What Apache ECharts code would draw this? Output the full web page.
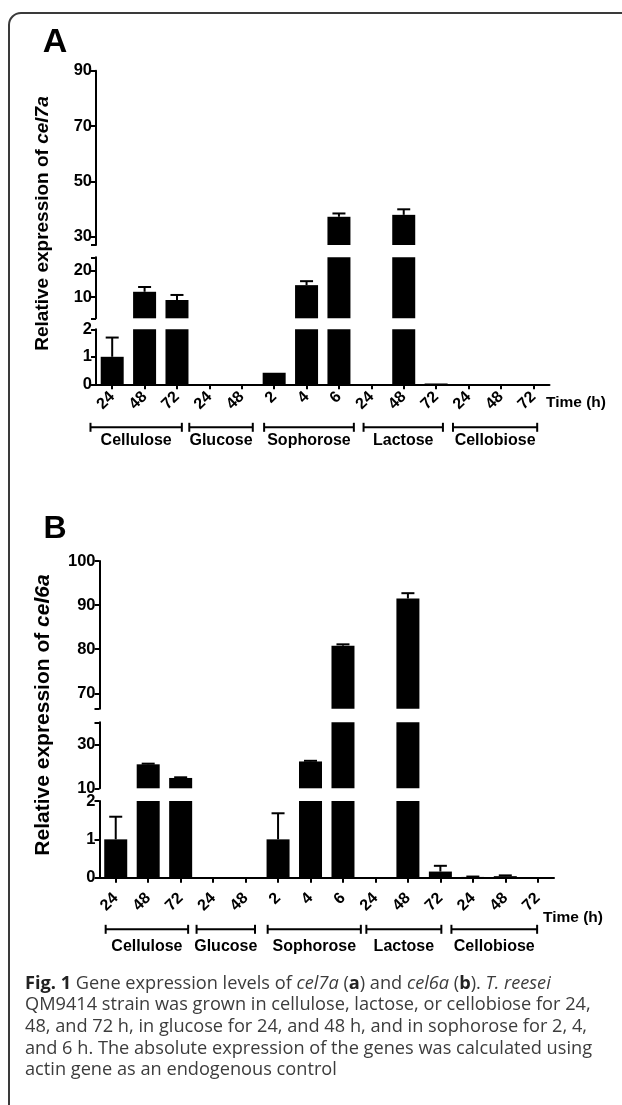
<!DOCTYPE html>
<html><head><meta charset="utf-8">
<script src="https://cdn.jsdelivr.net/npm/echarts@6/dist/echarts.min.js"></script>
<style>html,body{margin:0;padding:0;background:#fff}#c{width:622px;height:1105px}</style>
</head><body><div id="c"></div>
<script>
// ---------- data ----------
const categories = ['24','48','72','24','48','2','4','6','24','48','72','24','48','72'];
const groupNames = ['Cellulose','Glucose','Sophorose','Lactose','Cellobiose'];
const groupSizes = [3,2,3,3,3];
const cel7aValues = [1.0, 12.0, 8.9, 0.01, 0.01, 0.42, 14.5, 37.2, 0.01, 37.9, 0.03, 0.01, 0.01, 0.01];
const cel7aErrors = [0.7, 1.8, 1.9, 0, 0, 0, 1.5, 1.2, 0, 2.0, 0, 0, 0, 0];
const cel6aValues = [1.0, 20.9, 14.7, 0.01, 0.01, 1.0, 22.2, 80.8, 0.01, 91.5, 0.16, 0.02, 0.04, 0.01];
const cel6aErrors = [0.59, 0.3, 0.3, 0, 0, 0.68, 0.3, 0.3, 0, 1.2, 0.15, 0.01, 0.02, 0];
const cel7aSegments = [[27, 90], [2, 25], [0, 2]];
const cel7aTickLabels = [[30, 50, 70, 90], [10, 20], [0, 1, 2]];
const cel6aSegments = [[66.5, 100], [10, 40], [0, 2]];
const cel6aTickLabels = [[70, 80, 90, 100], [10, 30], [0, 1, 2]];
const captionLines = [
  '{fb|Fig. 1} Gene expression levels of {i|cel7a} ({b|a}) and {i|cel6a} ({b|b}). {i|T. reesei}',
  'QM9414 strain was grown in cellulose, lactose, or cellobiose for 24,',
  '48, and 72 h, in glucose for 24, and 48 h, and in sophorose for 2, 4,',
  'and 6 h. The absolute expression of the genes was calculated using',
  'actin gene as an endogenous control'
];

// ---------- layout ----------
const FF = '"Liberation Sans", Arial, sans-serif';
const panels = [
  { letter: 'A', gene: 'cel7a', values: cel7aValues, errors: cel7aErrors, segs: cel7aSegments, labels: cel7aTickLabels,
    left: 96, width: 453.5, boxes: [[70.7, 245], [257.3, 318.3], [329.3, 384.3]],
    bracketDy: 43, groupLabelDy: 56.5, xLabelMargin: 10,
    bracketOffsets: [[-0.67, 0.15], [-0.62, 0.34], [-0.31, 0.46], [-0.24, 0.21], [-0.48, 0.12]],
    letterPos: [55, 43, 34], namePos: [43, 223.5, 19], timePos: [576, 403] },
  { letter: 'B', gene: 'cel6a', values: cel6aValues, errors: cel6aErrors, segs: cel6aSegments, labels: cel6aTickLabels,
    left: 99.5, width: 454.5, boxes: [[561, 708.7], [722.3, 788.3], [801, 877.7]],
    bracketDy: 51.6, groupLabelDy: 69, xLabelMargin: 18,
    bracketOffsets: [[-0.31, 0.23], [-0.51, 0.29], [-0.32, 0.55], [-0.28, 0.03], [-0.66, -0.02]],
    letterPos: [55, 529, 32], namePos: [43, 715, 21], timePos: [573, 918] }
];

const groupStarts = [];
groupSizes.reduce((acc, s) => { groupStarts.push(acc); return acc + s; }, 0);

const grid = [], xAxis = [], yAxis = [], series = [], graphic = [];
let idx = 0;
panels.forEach(p => {
  p.segs.forEach((seg, s) => {
    const box = p.boxes[s];
    grid.push({ left: p.left, top: box[0], width: p.width, height: box[1] - box[0], outerBoundsMode: 'none' });
    const bottom = s === p.segs.length - 1;
    xAxis.push({
      gridIndex: idx, type: 'category', data: categories, show: bottom,
      axisLine: { show: true, onZero: false, lineStyle: { color: '#000', width: 2 } },
      axisTick: { show: true, alignWithLabel: true, length: 5, lineStyle: { color: '#000', width: 2 } },
      axisLabel: { rotate: 45, fontWeight: 'bold', fontSize: 16, fontFamily: FF, color: '#000', margin: p.xLabelMargin }
    });
    const ticks = Array.from(new Set([seg[0], ...p.labels[s], seg[1]])).sort((a, b) => a - b);
    yAxis.push({
      gridIndex: idx, type: 'value', min: seg[0], max: seg[1],
      splitLine: { show: false },
      axisLine: { show: true, lineStyle: { color: '#000', width: 2 } },
      axisTick: { show: true, length: 5, customValues: ticks, lineStyle: { color: '#000', width: 2 } },
      axisLabel: { customValues: p.labels[s], fontWeight: 'bold', fontSize: 16.5, fontFamily: FF, color: '#000', margin: 4 }
    });
    series.push({
      type: 'bar', xAxisIndex: idx, yAxisIndex: idx, data: p.values, barWidth: 23, clip: true,
      itemStyle: { color: '#000' }, silent: true, animation: false
    });
    series.push({
      type: 'custom', xAxisIndex: idx, yAxisIndex: idx, silent: true, animation: false, z: 3,
      data: p.values.map((v, k) => [k, v, p.errors[k]]),
      renderItem: (params, api) => {
        const v = api.value(1), e = api.value(2);
        if (!(e > 0) || v < seg[0] || v > seg[1]) return null;
        const b = api.coord([api.value(0), v]);
        const t = api.coord([api.value(0), v + e]);
        const hw = 6.5;
        return { type: 'group', children: [
          { type: 'line', shape: { x1: b[0], y1: b[1], x2: t[0], y2: t[1] }, style: { stroke: '#000', lineWidth: 2 } },
          { type: 'line', shape: { x1: t[0] - hw, y1: t[1], x2: t[0] + hw, y2: t[1] }, style: { stroke: '#000', lineWidth: 2 } }
        ] };
      }
    });
    if (bottom) {
      series.push({
        type: 'custom', xAxisIndex: idx, yAxisIndex: idx, silent: true, animation: false, clip: false,
        data: groupNames.map((n, g) => [groupStarts[g], groupStarts[g] + groupSizes[g] - 1]),
        renderItem: (params, api) => {
          const g = params.dataIndex;
          const a = api.coord([api.value(0), 0]);
          const b = api.coord([api.value(1), 0]);
          const band = api.size([1, 0])[0];
          const off = p.bracketOffsets[g];
          const x1 = a[0] + off[0] * band, x2 = b[0] + off[1] * band, y = a[1] + p.bracketDy;
          const ls = { stroke: '#000', lineWidth: 2 };
          return { type: 'group', children: [
            { type: 'line', shape: { x1: x1, y1: y, x2: x2, y2: y }, style: ls },
            { type: 'line', shape: { x1: x1, y1: y - 4.5, x2: x1, y2: y + 4.5 }, style: ls },
            { type: 'line', shape: { x1: x2, y1: y - 4.5, x2: x2, y2: y + 4.5 }, style: ls },
            { type: 'text', x: (x1 + x2) / 2, y: a[1] + p.groupLabelDy,
              style: { text: groupNames[g], fill: '#000', fontWeight: 'bold', fontSize: 16, fontFamily: FF,
                       align: 'center', verticalAlign: 'middle', textAlign: 'center', textVerticalAlign: 'middle' } }
          ] };
        }
      });
    }
    idx++;
  });
  graphic.push({ type: 'text', x: p.letterPos[0], y: p.letterPos[1], silent: true,
    style: { text: p.letter, fill: '#000', fontWeight: 'bold', fontSize: p.letterPos[2], fontFamily: FF,
             align: 'center', verticalAlign: 'middle', textAlign: 'center', textVerticalAlign: 'middle' } });
  graphic.push({ type: 'text', x: p.namePos[0], y: p.namePos[1], rotation: Math.PI / 2, silent: true,
    style: { text: '{n|Relative expression of }{g|' + p.gene + '}', fill: '#000',
             align: 'center', verticalAlign: 'middle', textAlign: 'center', textVerticalAlign: 'middle',
             rich: { n: { fontWeight: 'bold', fontSize: p.namePos[2], fontFamily: FF, fill: '#000' },
                     g: { fontWeight: 'bold', fontStyle: 'italic', fontSize: p.namePos[2], fontFamily: FF, fill: '#000' } } } });
  graphic.push({ type: 'text', x: p.timePos[0], y: p.timePos[1], silent: true,
    style: { text: 'Time (h)', fill: '#000', fontWeight: 'bold', fontSize: 15.5, fontFamily: FF,
             align: 'center', verticalAlign: 'middle', textAlign: 'center', textVerticalAlign: 'middle' } });
});

// frame
graphic.push({ type: 'rect', silent: true, shape: { x: 9, y: 13, width: 900, height: 1200, r: [12, 0, 0, 0] },
  style: { fill: 'none', stroke: '#3a3a3a', lineWidth: 2 } });
// caption
const CF = '"Open Sans", "Noto Sans", sans-serif';
const CS = 18.2;
captionLines.forEach((line, i) => {
  graphic.push({ type: 'text', x: 25, y: 983.5 + i * 21.7, silent: true,
    style: { text: line, fill: '#3c3c3c', fontSize: CS, fontFamily: CF,
             align: 'left', verticalAlign: 'middle', textAlign: 'left', textVerticalAlign: 'middle',
             rich: {
               fb: { fontWeight: 'bold', fontSize: CS, fontFamily: CF, fill: '#222' },
               b: { fontWeight: 'bold', fontSize: CS, fontFamily: CF, fill: '#222' },
               i: { fontStyle: 'italic', fontSize: CS, fontFamily: CF, fill: '#3c3c3c' }
             } } });
});

const chart = echarts.init(document.getElementById('c'), null, { renderer: 'canvas' });
chart.setOption({ animation: false, backgroundColor: '#fff', grid, xAxis, yAxis, series, graphic });
</script></body></html>
